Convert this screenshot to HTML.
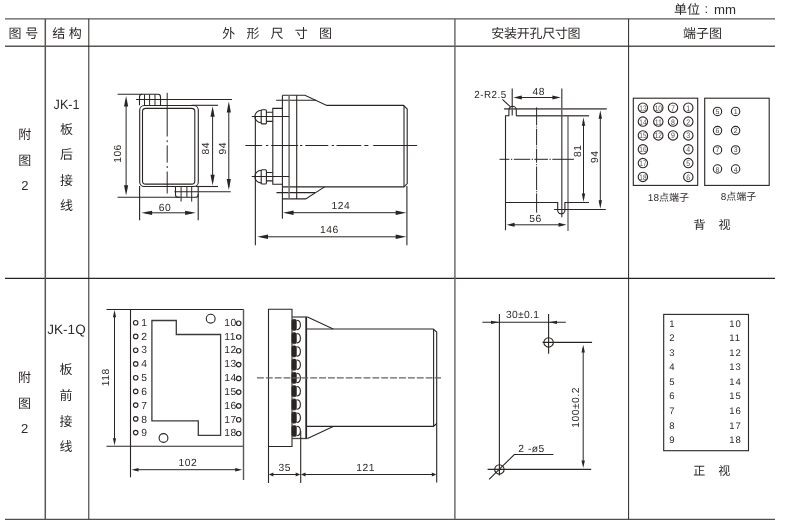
<!DOCTYPE html>
<html lang="zh-CN">
<head>
<meta charset="utf-8">
<title>JK-1 外形尺寸图</title>
<style>
html,body{margin:0;padding:0;background:#fff;}
body{width:792px;height:524px;overflow:hidden;}
svg{display:block;will-change:transform;}
text{font-family:"Liberation Sans","Noto Sans CJK SC",sans-serif;fill:#2e2a28;text-rendering:geometricPrecision;}
.cj{font-family:"Liberation Sans","Noto Sans CJK SC",sans-serif;}
.k{stroke:#2a2523;fill:none;stroke-width:1.1;}
.g{stroke:#5a5654;fill:none;stroke-width:1.2;}
.t{stroke:#2a2523;fill:none;stroke-width:1;}
.ar{fill:#2a2523;stroke:none;}
.d{font-size:10.3px;letter-spacing:0.5px;}
.m{text-anchor:middle;}
</style>
</head>
<body>
<svg width="792" height="524" viewBox="0 0 792 524">
<rect x="0" y="0" width="792" height="524" fill="#ffffff"/>

<!-- ===== table grid ===== -->
<g id="grid">
<line x1="5" y1="18.9" x2="775" y2="18.9" stroke="#5a5654" stroke-width="1.4"/>
<line x1="5" y1="46.2" x2="775" y2="46.2" stroke="#5a5654" stroke-width="1.4"/>
<line x1="5" y1="278.4" x2="775" y2="278.4" stroke="#2a2523" stroke-width="1.1"/>
<line x1="5" y1="519.3" x2="775" y2="519.3" stroke="#2a2523" stroke-width="1"/>
<line x1="45.3" y1="18.9" x2="45.3" y2="519.2" stroke="#5a5654" stroke-width="1.5"/>
<line x1="88.8" y1="18.9" x2="88.8" y2="519.2" stroke="#2a2523" stroke-width="1"/>
<line x1="454.9" y1="18.9" x2="454.9" y2="519.2" stroke="#66625f" stroke-width="1.4"/>
<line x1="628.6" y1="18.9" x2="628.6" y2="519.2" stroke="#2a2523" stroke-width="1"/>
</g>

<!-- ===== header text ===== -->
<g id="header" font-size="13px">
<text x="674" y="13.6" font-size="13px">单位</text><text x="706.2" y="13.2" font-size="13px" class="m">:</text><text x="714" y="13.6" font-size="13.2px">mm</text>
<text x="8.6" y="38.4" letter-spacing="3.6">图号</text>
<text x="52.2" y="38.4" letter-spacing="3.6">结构</text>
<text x="222.2" y="38.4" letter-spacing="11.2">外形尺寸图</text>
<text x="491.3" y="38.4" letter-spacing="-0.28">安装开孔尺寸图</text>
<text x="702.4" y="38.4" class="m">端子图</text>
</g>

<!-- ===== left column labels ===== -->
<g id="labels" font-size="13px" class="m">
<text x="24.8" y="139.3">附</text>
<text x="24.8" y="164.5">图</text>
<text x="24.8" y="189.7">2</text>
<text x="66.6" y="108.7" font-size="13.5px" textLength="26" lengthAdjust="spacingAndGlyphs">JK-1</text>
<text x="66.6" y="133.6">板</text>
<text x="66.6" y="158.9">后</text>
<text x="66.6" y="184.7">接</text>
<text x="66.6" y="210.4">线</text>

<text x="24.6" y="381.9">附</text>
<text x="24.6" y="407.8">图</text>
<text x="24.6" y="432.8">2</text>
<text x="66.5" y="334.0" font-size="13.5px" textLength="38.3" lengthAdjust="spacingAndGlyphs">JK-1Q</text>
<text x="66.0" y="373.7">板</text>
<text x="66.0" y="399.7">前</text>
<text x="66.0" y="425.7">接</text>
<text x="66.0" y="450.9">线</text>
</g>

<!-- ===== ROW 1 : front view ===== -->
<g id="r1-front">
<!-- top tab -->
<path class="k" d="M117.6 94.3H157.9Q160.5 94.3 160.5 96.9V105.2"/>
<path class="k" d="M139.5 105.2V97Q139.5 94.3 142.2 94.3"/>
<path class="t" d="M144.5 94.3V105M149.6 94.3V105M155 94.3V105"/>
<path class="k" d="M136.1 99.5H232"/>
<path class="k" d="M191.6 105.3H218"/>
<!-- body -->
<rect class="k" x="139.7" y="105.5" width="58.6" height="81" rx="4.6" ry="4.6" stroke-width="1.35"/>
<rect class="k" x="142.5" y="108.4" width="52.3" height="75.7" rx="3.2" ry="3.2" stroke-width="1.25"/>
<!-- bottom tab -->
<path class="k" d="M175.5 186.5V194.7Q175.5 197.3 178.1 197.3H195.6Q198.2 197.3 198.2 194.7V186.5"/>
<path class="t" d="M181.1 186.5V201.6M186.9 186.5V197.3M191.7 186.5V201.6"/>
<path class="k" d="M117.6 197.3H180"/>
<path class="k" d="M196 186.5H218"/>
<path class="k" d="M174.4 191.8H230.7"/>
<!-- centre line -->
<path class="t" d="M167.2 92.8V136.5M167.2 140.2V142.2M167.2 145.4V162.6M167.2 166V168M167.2 171.5V193.5"/>
<!-- 106 dim -->
<path class="t" d="M126.1 100V191"/>
<path class="ar" d="M126.1 96L124 106.4H128.2Z"/>
<path class="ar" d="M126.1 195.6L124 185.2H128.2Z"/>
<text class="d m" transform="translate(121.3 153.5) rotate(-90)">106</text>
<!-- 84 dim -->
<path class="t" d="M212.6 110V182"/>
<path class="ar" d="M212.6 106.2L210.5 116.8H214.7Z"/>
<path class="ar" d="M212.6 185.4L210.5 174.8H214.7Z"/>
<text class="d m" transform="translate(209.2 148.3) rotate(-90)">84</text>
<!-- 94 dim -->
<path class="t" d="M228.8 105V187"/>
<path class="ar" d="M228.8 101.6L226.7 112.6H230.9Z"/>
<path class="ar" d="M228.8 190.1L226.7 179.1H230.9Z"/>
<text class="d m" transform="translate(225.6 148.3) rotate(-90)">94</text>
<!-- 60 dim -->
<path class="k" d="M139.6 186V220.2M198.2 194V220.2"/>
<path class="t" d="M145 212.8H192"/>
<path class="ar" d="M141.4 212.8L152.1 210.7V214.9Z"/>
<path class="ar" d="M195.8 212.8L185.1 210.7V214.9Z"/>
<text class="d m" x="164.9" y="210.7">60</text>
</g>

<!-- ===== ROW 1 : side view ===== -->
<g id="r1-side">
<path class="k" d="M282.4 95.2H304.9L326.8 105.4H403.5L407.2 109V183.6L404 186.9H282.4"/>
<path class="k" d="M324.6 186.9L305.7 198.9H282.4"/>
<path class="k" d="M276.1 100.3H316M276.5 192.6H315.1"/>
<path class="k" d="M282.4 95.2V218.7"/>
<path d="M289.1 95.2V198.9" stroke="#6f6b69" stroke-width="1.5" fill="none"/>
<path class="k" stroke-width="1.15" d="M296.7 95.2V198.9"/>
<path class="k" d="M282.4 108.4H272.8V184.3H282.4"/>
<path class="k" d="M404 105.4V186.9" stroke-width="0.8"/>
<!-- upper screw -->
<path class="k" d="M251.8 116.5H289.1"/>
<path class="k" d="M261.2 110.2A6.3 6.3 0 0 0 261.2 122.8"/>
<rect class="k" stroke-width="1.15" x="261.2" y="109.8" width="5.2" height="14.1" rx="1" ry="1"/>
<path class="k" d="M266.4 112.3H272.8M266.4 121.4H272.8"/>
<!-- lower screw -->
<path class="k" d="M251.8 176.5H289.1"/>
<path class="k" d="M261.2 170.3A6.3 6.3 0 0 0 261.2 182.9"/>
<rect class="k" stroke-width="1.15" x="261.2" y="169.8" width="5.2" height="14.2" rx="1" ry="1"/>
<path class="k" d="M266.4 172.5H272.8M266.4 180.9H272.8"/>
<!-- ext line for 146 -->
<path class="k" d="M255.35 116.5V245.3"/>
<path class="k" d="M406.9 186V245.3"/>
<!-- centre line -->
<path class="t" d="M245.3 145.5H262.1M265.9 145.5H268.3M271.2 145.5H298.1M300 145.5H302.4M305.3 145.5H328.3M331.7 145.5H334.1M336.5 145.5H361.2M364.3 145.5H368.4M373.2 145.5H417.1"/>
<!-- 124 dim -->
<path class="t" d="M288 212.7H401"/>
<path class="ar" d="M283 212.7L293.6 210.5V214.9Z"/>
<path class="ar" d="M406.3 212.7L395.7 210.5V214.9Z"/>
<text class="d m" x="340.8" y="208.6">124</text>
<!-- 146 dim -->
<path class="t" d="M262 236.8H401"/>
<path class="ar" d="M257.3 236.8L268 234.6V239Z"/>
<path class="ar" d="M406.3 236.8L395.7 234.6V239Z"/>
<text class="d m" x="329.3" y="232.6">146</text>
</g>

<!-- ===== ROW 1 : mounting holes ===== -->
<g id="r1-mount">
<text class="d" x="474.3" y="97.9" textLength="32.3" lengthAdjust="spacingAndGlyphs">2-R2.5</text>
<path class="k" stroke-width="1.2" d="M502.4 99.3L510.2 106.6"/>
<path class="k" d="M512.2 88.4V115.6"/>
<path d="M561.8 88.4V217.2" stroke="#4f4b49" stroke-width="1.3" fill="none"/>
<path class="t" d="M518 97.5H556"/>
<path class="ar" d="M513.4 97.5L521.8 95.6V99.4Z"/>
<path class="ar" d="M560.8 97.5L552.4 95.6V99.4Z"/>
<text class="d m" x="538.7" y="94.6">48</text>
<path d="M504.1 108.9H606.8" stroke="#6a6664" stroke-width="1.6" fill="none"/>
<path d="M516.1 115.7H589" stroke="#55514f" stroke-width="1.5" fill="none"/><path class="k" stroke-width="1.2" d="M505.5 230.2V115.7H508.9V109.9A3.7 3.7 0 0 1 516.3 109.9V115.7"/>
<path class="g" d="M568 115.8V231"/>
<path class="k" d="M505.5 202.5H557.7V210.2A3.6 3.6 0 0 0 564.9 210.2V202.5H589"/>
<path class="k" d="M554.1 209.5H605.8"/>
<path class="t" d="M536.6 107.4V125.4M536.6 126.5V127.6M536.6 128.7V145.4M536.6 146.5V147.6M536.6 148.7V162.8M536.6 164.1V165.2M536.6 166.5V190.1M536.6 191.2V192.3M536.6 193.4V212.6"/>
<path class="t" d="M499.5 159.3H509.4M510.9 159.3H512.2M513.8 159.3H530.3M531.7 159.3H533M534.3 159.3H548M549.5 159.3H550.8M552.3 159.3H573.9"/>
<!-- 81 -->
<path class="t" d="M583.5 122V198"/>
<path class="ar" d="M583.5 117.4L581.8 125.8H585.2Z"/>
<path class="ar" d="M583.5 202L581.8 193.6H585.2Z"/>
<text class="d m" transform="translate(580.8 150.8) rotate(-90)">81</text>
<!-- 94 -->
<path class="t" d="M600.3 115V204"/>
<path class="ar" d="M600.3 110.3L598.6 118.7H602Z"/>
<path class="ar" d="M600.3 208.7L598.6 200.3H602Z"/>
<text class="d m" transform="translate(598.4 156.7) rotate(-90)">94</text>
<!-- 56 -->
<path class="t" d="M510 224.8H563"/>
<path class="ar" d="M506.6 224.8L514.6 222.8V226.8Z"/>
<path class="ar" d="M566.5 224.8L558.5 222.8V226.8Z"/>
<text class="d m" x="535.6" y="221.6">56</text>
</g>

<!-- ===== ROW 1 : terminals ===== -->
<g id="r1-term">
<rect class="k" x="633.3" y="98.2" width="64.4" height="87.2" stroke-width="1.2"/>
<rect class="k" x="704.7" y="98.2" width="64.5" height="87.2" stroke-width="1.2"/>
<g class="k" stroke-width="1.3">
<circle cx="642.9" cy="107.7" r="4.7"/>
<circle cx="658.3" cy="107.7" r="4.7"/>
<circle cx="673" cy="107.7" r="4.7"/>
<circle cx="688.3" cy="107.7" r="4.7"/>
<circle cx="642.9" cy="121.6" r="4.7"/>
<circle cx="658.3" cy="121.6" r="4.7"/>
<circle cx="673" cy="121.6" r="4.7"/>
<circle cx="688.3" cy="121.6" r="4.7"/>
<circle cx="642.9" cy="135.4" r="4.7"/>
<circle cx="658.3" cy="135.4" r="4.7"/>
<circle cx="673" cy="135.4" r="4.7"/>
<circle cx="688.3" cy="135.4" r="4.7"/>
<circle cx="642.9" cy="149.3" r="4.7"/>
<circle cx="688.3" cy="149.3" r="4.7"/>
<circle cx="642.9" cy="163.1" r="4.7"/>
<circle cx="688.3" cy="163.1" r="4.7"/>
<circle cx="642.9" cy="176.9" r="4.7"/>
<circle cx="688.3" cy="176.9" r="4.7"/>
</g>
<g font-size="8px" class="m">
<text x="642.9" y="110.6" textLength="7.3" lengthAdjust="spacingAndGlyphs" style="fill:#55514f">13</text>
<text x="658.3" y="110.6" textLength="7.3" lengthAdjust="spacingAndGlyphs" style="fill:#55514f">10</text>
<text x="673" y="110.6" textLength="3.9" lengthAdjust="spacingAndGlyphs" style="fill:#55514f">7</text>
<text x="688.3" y="110.6" textLength="3.9" lengthAdjust="spacingAndGlyphs" style="fill:#55514f">1</text>
<text x="642.9" y="124.5" textLength="7.3" lengthAdjust="spacingAndGlyphs" style="fill:#55514f">14</text>
<text x="658.3" y="124.5" textLength="7.3" lengthAdjust="spacingAndGlyphs" style="fill:#55514f">11</text>
<text x="673" y="124.5" textLength="3.9" lengthAdjust="spacingAndGlyphs" style="fill:#55514f">8</text>
<text x="688.3" y="124.5" textLength="3.9" lengthAdjust="spacingAndGlyphs" style="fill:#55514f">2</text>
<text x="642.9" y="138.3" textLength="7.3" lengthAdjust="spacingAndGlyphs" style="fill:#55514f">15</text>
<text x="658.3" y="138.3" textLength="7.3" lengthAdjust="spacingAndGlyphs" style="fill:#55514f">12</text>
<text x="673" y="138.3" textLength="3.9" lengthAdjust="spacingAndGlyphs" style="fill:#55514f">9</text>
<text x="688.3" y="138.3" textLength="3.9" lengthAdjust="spacingAndGlyphs" style="fill:#55514f">3</text>
<text x="642.9" y="152.2" textLength="7.3" lengthAdjust="spacingAndGlyphs" style="fill:#55514f">16</text>
<text x="688.3" y="152.2" textLength="3.9" lengthAdjust="spacingAndGlyphs" style="fill:#55514f">4</text>
<text x="642.9" y="166.0" textLength="7.3" lengthAdjust="spacingAndGlyphs" style="fill:#55514f">17</text>
<text x="688.3" y="166.0" textLength="3.9" lengthAdjust="spacingAndGlyphs" style="fill:#55514f">5</text>
<text x="642.9" y="179.8" textLength="7.3" lengthAdjust="spacingAndGlyphs" style="fill:#55514f">18</text>
<text x="688.3" y="179.8" textLength="3.9" lengthAdjust="spacingAndGlyphs" style="fill:#55514f">6</text>
</g>
<g class="k" stroke-width="0.8" stroke="#3e3a38">
<circle cx="717.5" cy="111.4" r="4.2"/>
<circle cx="735.6" cy="111.4" r="4.2"/>
<circle cx="717.5" cy="130.6" r="4.2"/>
<circle cx="735.6" cy="130.6" r="4.2"/>
<circle cx="717.5" cy="149.9" r="4.2"/>
<circle cx="735.6" cy="149.9" r="4.2"/>
<circle cx="717.5" cy="169" r="4.2"/>
<circle cx="735.6" cy="169" r="4.2"/>
</g>
<g font-size="7px" class="m">
<text x="717.5" y="113.9" style="fill:#4e4a48">5</text><text x="735.6" y="113.9" style="fill:#4e4a48">1</text>
<text x="717.5" y="133.1" style="fill:#4e4a48">6</text><text x="735.6" y="133.1" style="fill:#4e4a48">2</text>
<text x="717.5" y="152.4" style="fill:#4e4a48">7</text><text x="735.6" y="152.4" style="fill:#4e4a48">3</text>
<text x="717.5" y="171.5" style="fill:#4e4a48">8</text><text x="735.6" y="171.5" style="fill:#4e4a48">4</text>
</g>
<text class="m" font-size="10px" x="668.4" y="201.1">18点端子</text>
<text class="m" font-size="10px" x="738.5" y="199.9">8点端子</text>
<text font-size="12px" x="693.4" y="229.3" letter-spacing="13">背视</text>
</g>

<!--ROW1END-->

<!-- ===== ROW 2 : front view ===== -->
<g id="r2-front">
<path class="k" d="M106.5 309.45H243.5M106.5 446.3H243.5"/>
<path class="k" d="M130.5 309.4V477.3"/>
<path d="M243.5 309.4V480" stroke="#5a5654" stroke-width="1.4" fill="none"/>
<path d="M151.9 320.5H176.3V334.5H220.6V435.3H198.3V420.8H151.9Z" stroke="#3e3a38" stroke-width="1.3" fill="none"/>
<circle class="k" cx="210.7" cy="318.7" r="4.4" stroke-width="1.3"/>
<circle class="k" cx="163.5" cy="438" r="4.4" stroke-width="1.3"/>
<g class="k" stroke-width="1.3">
<circle cx="135.7" cy="322.7" r="2.25"/><circle cx="238.7" cy="323.2" r="2.25"/>
<circle cx="135.7" cy="336.4" r="2.25"/><circle cx="238.7" cy="337.0" r="2.25"/>
<circle cx="135.7" cy="350.2" r="2.25"/><circle cx="238.7" cy="350.8" r="2.25"/>
<circle cx="135.7" cy="363.9" r="2.25"/><circle cx="238.7" cy="364.6" r="2.25"/>
<circle cx="135.7" cy="377.7" r="2.25"/><circle cx="238.7" cy="378.4" r="2.25"/>
<circle cx="135.7" cy="391.4" r="2.25"/><circle cx="238.7" cy="392.1" r="2.25"/>
<circle cx="135.7" cy="405.1" r="2.25"/><circle cx="238.7" cy="405.9" r="2.25"/>
<circle cx="135.7" cy="418.9" r="2.25"/><circle cx="238.7" cy="419.7" r="2.25"/>
<circle cx="135.7" cy="432.6" r="2.25"/><circle cx="238.7" cy="433.5" r="2.25"/>
</g>
<g class="d">
<text x="141.3" y="325.8">1</text><text x="224.3" y="325.7">10</text>
<text x="141.3" y="339.6">2</text><text x="224.3" y="339.5">11</text>
<text x="141.3" y="353.4">3</text><text x="224.3" y="353.4">12</text>
<text x="141.3" y="367.3">4</text><text x="224.3" y="367.2">13</text>
<text x="141.3" y="381.1">5</text><text x="224.3" y="381.0">14</text>
<text x="141.3" y="394.9">6</text><text x="224.3" y="394.9">15</text>
<text x="141.3" y="408.7">7</text><text x="224.3" y="408.7">16</text>
<text x="141.3" y="422.5">8</text><text x="224.3" y="422.5">17</text>
<text x="141.3" y="436.4">9</text><text x="224.3" y="436.3">18</text>
</g>
<path class="t" d="M114.5 315V441"/>
<path class="ar" d="M114.5 309.9L112.9 317.2H116.1Z"/><path class="ar" d="M114.5 445.6L112.9 438.3H116.1Z"/>
<text class="d m" transform="translate(108.9 377.3) rotate(-90)">118</text>
<path class="t" d="M135 469.7H239"/>
<path class="ar" d="M131.5 469.7L138.5 468V471.4Z"/><path class="ar" d="M242.2 469.7L235.2 468V471.4Z"/>
<text class="d m" x="187.8" y="466">102</text>
</g>
<!-- ===== ROW 2 : side view ===== -->
<g id="r2-side">
<path class="k" d="M268.5 483V309.3H292V446.5H268.5"/>
<path d="M292 317H307.5" stroke="#4a4644" stroke-width="1.3" fill="none"/>
<path class="k" stroke-width="1.15" d="M307.5 317L333.2 329H433.2L436.7 332V482.6"/>
<path d="M292 438.5H307.5" stroke="#4a4644" stroke-width="1.3" fill="none"/>
<path class="k" stroke-width="1.15" d="M307.5 438.5L333.2 426.4"/>
<path class="k" stroke-width="1.15" d="M306 329H333.2M306 426.4H433.4L436.7 423.5"/>
<path d="M306.2 317V438.5" stroke="#2a2523" stroke-width="1.8" fill="none"/>
<path class="k" d="M433.6 329V426.4" stroke-width="0.8"/>
<path class="k" d="M300.7 431V483"/>
<rect x="291.9" y="319.3" width="4.5" height="11.2" rx="1.8" ry="1.8" fill="#2a2523" stroke="#2a2523" stroke-width="0.6"/>
<path class="k" stroke-width="1.2" d="M296.5 320.2C299.3 320.2 300.4 322.5 300.4 324.9S299.3 329.6 296.5 329.6"/>
<rect x="291.9" y="332.6" width="4.5" height="11.2" rx="1.8" ry="1.8" fill="#2a2523" stroke="#2a2523" stroke-width="0.6"/>
<path class="k" stroke-width="1.2" d="M296.5 333.5C299.3 333.5 300.4 335.8 300.4 338.2S299.3 342.9 296.5 342.9"/>
<rect x="291.9" y="345.8" width="4.5" height="11.2" rx="1.8" ry="1.8" fill="#2a2523" stroke="#2a2523" stroke-width="0.6"/>
<path class="k" stroke-width="1.2" d="M296.5 346.7C299.3 346.7 300.4 349.0 300.4 351.4S299.3 356.1 296.5 356.1"/>
<rect x="291.9" y="359.1" width="4.5" height="11.2" rx="1.8" ry="1.8" fill="#2a2523" stroke="#2a2523" stroke-width="0.6"/>
<path class="k" stroke-width="1.2" d="M296.5 360.0C299.3 360.0 300.4 362.3 300.4 364.7S299.3 369.4 296.5 369.4"/>
<rect x="291.9" y="372.3" width="4.5" height="11.2" rx="1.8" ry="1.8" fill="#2a2523" stroke="#2a2523" stroke-width="0.6"/>
<path class="k" stroke-width="1.2" d="M296.5 373.2C299.3 373.2 300.4 375.5 300.4 377.9S299.3 382.6 296.5 382.6"/>
<rect x="291.9" y="385.6" width="4.5" height="11.2" rx="1.8" ry="1.8" fill="#2a2523" stroke="#2a2523" stroke-width="0.6"/>
<path class="k" stroke-width="1.2" d="M296.5 386.5C299.3 386.5 300.4 388.8 300.4 391.2S299.3 395.9 296.5 395.9"/>
<rect x="291.9" y="398.9" width="4.5" height="11.2" rx="1.8" ry="1.8" fill="#2a2523" stroke="#2a2523" stroke-width="0.6"/>
<path class="k" stroke-width="1.2" d="M296.5 399.8C299.3 399.8 300.4 402.1 300.4 404.5S299.3 409.2 296.5 409.2"/>
<rect x="291.9" y="412.1" width="4.5" height="11.2" rx="1.8" ry="1.8" fill="#2a2523" stroke="#2a2523" stroke-width="0.6"/>
<path class="k" stroke-width="1.2" d="M296.5 413.0C299.3 413.0 300.4 415.3 300.4 417.7S299.3 422.4 296.5 422.4"/>
<rect x="291.9" y="425.4" width="4.5" height="11.2" rx="1.8" ry="1.8" fill="#2a2523" stroke="#2a2523" stroke-width="0.6"/>
<path class="k" stroke-width="1.2" d="M296.5 426.3C299.3 426.3 300.4 428.6 300.4 431.0S299.3 435.7 296.5 435.7"/>
<path d="M256.95 377.9H441" stroke="#66625f" stroke-width="1.4" fill="none" stroke-dasharray="6.9 1.98"/>
<path class="t" d="M271 474.5H298M303 474.5H434"/>
<path class="ar" d="M268.8 474.5L273.4 472.6V476.4Z"/><path class="ar" d="M300.3 474.5L295.7 472.6V476.4Z"/>
<path class="ar" d="M300.9 474.5L305.5 472.6V476.4Z"/><path class="ar" d="M436.4 474.5L431.8 472.6V476.4Z"/>
<text class="d m" x="284.7" y="470.9">35</text>
<text class="d m" x="365.7" y="470.9">121</text>
</g>
<!-- ===== ROW 2 : mounting holes ===== -->
<g id="r2-mount">
<path class="k" d="M482.4 322.3H565.8"/>
<path class="k" d="M499.4 313.9V475.5M548.6 313.9V353.8"/>
<path class="ar" d="M499.2 322.3L491 320.7V323.9Z"/><path class="ar" d="M548.8 322.3L557 320.7V323.9Z"/>
<text class="d m" x="522.6" y="317.6" style="letter-spacing:0.3px">30±0.1</text>
<circle class="k" cx="548.6" cy="342.4" r="4.7" stroke-width="1.35"/>
<path class="k" d="M542.5 342.4H592.1"/>
<circle class="k" cx="499.4" cy="469.4" r="4.7" stroke-width="1.35"/>
<path class="k" d="M487.6 469.4H591.2"/>
<path class="k" stroke-width="1.1" d="M489.1 479.3L514.3 454.5H553.4"/>
<text class="d m" x="531.6" y="452.4">2 -ø5</text>
<path class="t" d="M583.2 348V464"/>
<path class="ar" d="M583.2 344.8L581.5 352.4H584.9Z"/><path class="ar" d="M583.2 468.1L581.5 460.5H584.9Z"/>
<text class="d m" transform="translate(578.8 407.4) rotate(-90)">100±0.2</text>
</g>
<!-- ===== ROW 2 : terminals ===== -->
<g id="r2-term">
<rect class="k" x="663.7" y="314.4" width="84.8" height="136.3" stroke-width="1.1"/>
<g font-size="9.5px" letter-spacing="0.9">
<text x="669.2" y="326.8">1</text><text x="729.3" y="326.8">10</text>
<text x="669.2" y="341.3">2</text><text x="729.3" y="341.3">11</text>
<text x="669.2" y="355.9">3</text><text x="729.3" y="355.9">12</text>
<text x="669.2" y="370.4">4</text><text x="729.3" y="370.4">13</text>
<text x="669.2" y="384.9">5</text><text x="729.3" y="384.9">14</text>
<text x="669.2" y="399.4">6</text><text x="729.3" y="399.4">15</text>
<text x="669.2" y="414.0">7</text><text x="729.3" y="414.0">16</text>
<text x="669.2" y="428.5">8</text><text x="729.3" y="428.5">17</text>
<text x="669.2" y="443.0">9</text><text x="729.3" y="443.0">18</text>
</g>
<text font-size="12px" x="693.3" y="474.7" letter-spacing="13">正视</text>
</g>
<!--ROW2END-->

</svg>
</body>
</html>
